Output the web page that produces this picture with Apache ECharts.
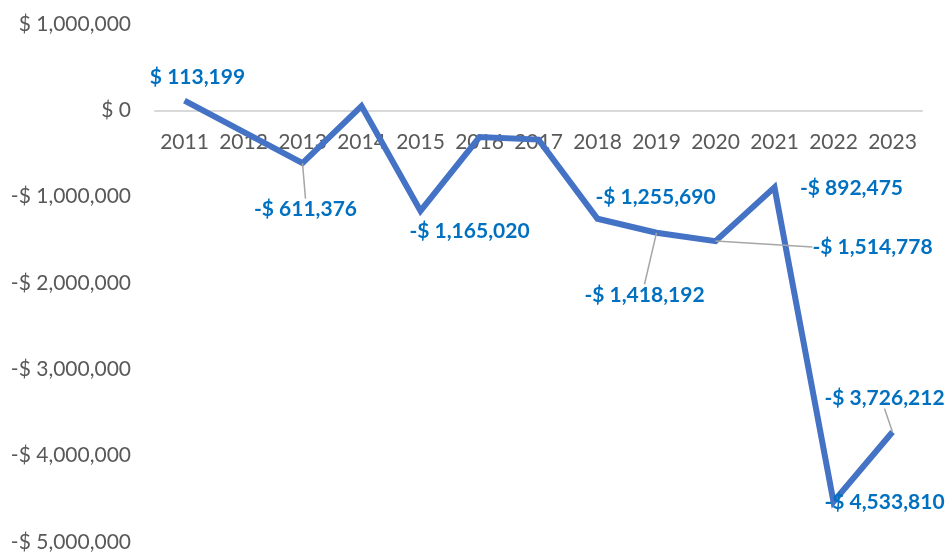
<!DOCTYPE html>
<html>
<head>
<meta charset="utf-8">
<script src="https://cdn.jsdelivr.net/npm/echarts@6/dist/echarts.min.js"></script>
<style>html,body{margin:0;padding:0;background:#fff}#c{width:946px;height:552px}</style>
</head>
<body>
<div id="c"></div>
<script>
const years = ['2011','2012','2013','2014','2015','2016','2017','2018','2019','2020','2021','2022','2023'];
const values = [113199, -250000, -611376, 50000, -1165020, -309000, -339000, -1255690, -1418192, -1514778, -892475, -4533810, -3726212];
const labelled = [true, false, true, false, true, false, false, true, true, true, true, true, true];
const yTicks = [1000000, 0, -1000000, -2000000, -3000000, -4000000, -5000000];

// label offsets (style only) and which labels have leader lines
const labelShift = [[13,-23],[0,0],[3,46],[0,0],[49,20],[0,0],[0,0],[58,-22],[-12,62],[157,6],[77,1],[51,0],[-8,-34]];
const leader = [false,false,true,false,false,false,false,false,true,true,false,false,true];

function money(v){
  const s = Math.abs(Math.round(v)).toString().replace(/\B(?=(\d{3})+(?!\d))/g, ',');
  return (v < 0 ? '-$ ' : '$ ') + s;
}

const W = 946, H = 552;
const G = { left: 155, right: 24, top: 24, bottom: 10 };
const yMin = yTicks[yTicks.length - 1], yMax = yTicks[0];
const gridH = H - G.top - G.bottom;
// move the category axis up to the zero value
const zeroOffset = -gridH * (0 - yMin) / (yMax - yMin);

const chart = echarts.init(document.getElementById('c'));
const FONT = 'Lato';
chart.setOption({
  animation: false,
  grid: Object.assign({ containLabel: false, outerBoundsMode: 'none' }, G),
  xAxis: {
    type: 'category',
    data: years,
    boundaryGap: true,
    position: 'bottom',
    offset: zeroOffset,
    axisLine: { show: true, onZero: false, lineStyle: { color: '#d9d9d9', width: 2 } },
    axisTick: { show: false },
    axisLabel: { color: '#595959', fontSize: 21, fontFamily: FONT, margin: 21, interval: 0 },
    splitLine: { show: false }
  },
  yAxis: {
    type: 'value',
    min: yMin,
    max: yMax,
    interval: 1000000,
    axisLine: { show: false },
    axisTick: { show: false },
    splitLine: { show: false },
    axisLabel: { color: '#595959', fontSize: 21, fontFamily: FONT, margin: 24, formatter: money }
  },
  series: [{
    type: 'line',
    data: values.map((v, i) => ({
      value: v,
      label: { show: labelled[i] },
      labelLine: { show: leader[i] }
    })),
    symbol: 'circle',
    symbolSize: 0.1,
    showSymbol: true,
    itemStyle: { color: '#4472C4' },
    lineStyle: { color: '#4472C4', width: 6, join: 'miter' },
    label: {
      show: true,
      position: 'inside',
      color: '#0070C0',
      fontWeight: 'bold',
      fontSize: 21,
      fontFamily: FONT,
      formatter: p => money(p.value)
    },
    labelLine: { show: false, lineStyle: { color: '#a6a6a6', width: 1.5 } },
    labelLayout: function (params) {
      const s = labelShift[params.dataIndex];
      return { dx: s[0], dy: s[1] };
    }
  }]
});
</script>
</body>
</html>
